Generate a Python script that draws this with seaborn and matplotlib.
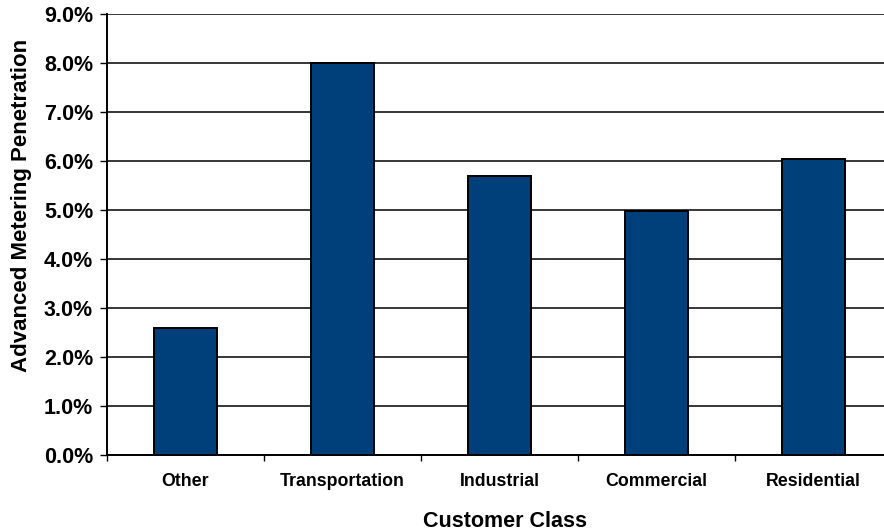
import numpy as np
import pandas as pd
import matplotlib
matplotlib.use("Agg")
import matplotlib.pyplot as plt
import seaborn as sns
from matplotlib.ticker import FuncFormatter, FixedLocator

sns.set_style("white")
plt.rcParams['font.family'] = ['Liberation Sans', 'DejaVu Sans']
plt.rcParams['font.weight'] = 'bold'
plt.rcParams['text.color'] = 'black'
plt.rcParams['axes.labelcolor'] = 'black'
plt.rcParams['xtick.color'] = 'black'
plt.rcParams['ytick.color'] = 'black'

# data
categories = ["Other", "Transportation", "Industrial", "Commercial", "Residential"]
penetration = [2.6, 8.0, 5.7, 4.98, 6.05]
y_ticks = [0, 1, 2, 3, 4, 5, 6, 7, 8, 9]

df = pd.DataFrame({"Customer Class": categories, "Penetration": penetration})

fig = plt.figure(figsize=(8.84, 5.31), dpi=100)
ax = fig.add_axes([0.121, 0.1431, 0.888, 0.8305])

sns.barplot(data=df, x="Customer Class", y="Penetration", color="#00407A",
            saturation=1, width=0.4, edgecolor="black", linewidth=1.4, ax=ax, zorder=3)

ax.set_ylim(0, 9)
ax.set_xlim(-0.5, len(categories) - 0.5)
ax.set_yticks(y_ticks)
ax.yaxis.set_major_formatter(FuncFormatter(lambda v, p: f"{v:.1f}%"))
ax.yaxis.grid(True, color="black", linewidth=1.1, zorder=0)
ax.set_axisbelow(True)

# category separators as small ticks below the axis
ax.xaxis.set_minor_locator(FixedLocator(np.arange(-0.5, len(categories), 1.0)))
ax.tick_params(axis="x", which="major", length=0, pad=13, labelsize=12.8, labelcolor="black")
ax.tick_params(axis="x", which="minor", length=4, width=1, color="black", direction="out", bottom=True)
ax.tick_params(axis="y", length=5, width=1, color="black", direction="out", left=True,
               labelsize=15.5, pad=5, labelcolor="black")

for side in ["top", "right"]:
    ax.spines[side].set_visible(False)
for side in ["left", "bottom"]:
    ax.spines[side].set_color("black")
    ax.spines[side].set_linewidth(1.4)

ax.set_xlabel("Customer Class", fontsize=15.5, fontweight="bold", color="black")
ax.set_ylabel("Advanced Metering Penetration", fontsize=16, fontweight="bold", color="black")
ax.xaxis.set_label_coords(0.507, -0.127)
ax.yaxis.set_label_coords(-0.095, 0.565)

fig.savefig("out.png", dpi=100)
